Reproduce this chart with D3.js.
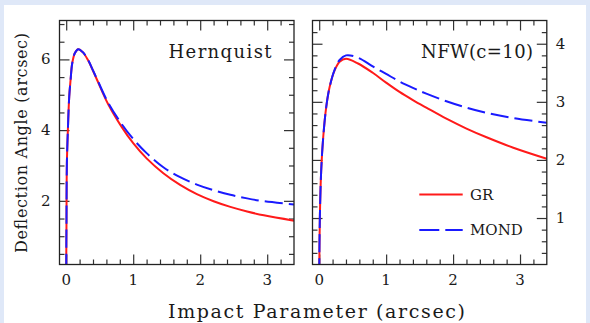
<!DOCTYPE html>
<html>
<head>
<meta charset="utf-8">
<script src="https://cdn.jsdelivr.net/npm/d3@7"></script>
<style>
  html, body { margin: 0; padding: 0; background: #dfe8f8; }
  #chart { width: 590px; height: 323px; }
  text { font-family: "DejaVu Serif", "Liberation Serif", serif; fill: #1a1a1a; }
</style>
</head>
<body>
<div id="chart"></div>
<script>
// Hernquist panel
const hernX    = [0, 0.004, 0.01, 0.025, 0.045, 0.065, 0.09, 0.13, 0.18, 0.25, 0.325, 0.4, 0.475, 0.625, 0.825, 1.0, 1.2, 1.45, 1.7, 1.95, 2.2, 2.45, 2.7, 2.95, 3.4];
const hernGR   = [0, 1.3, 3.05, 4.0, 4.94, 5.41, 5.89, 6.18, 6.29, 6.20, 5.98, 5.68, 5.36, 4.74, 4.10, 3.63, 3.20, 2.78, 2.45, 2.19, 1.99, 1.83, 1.70, 1.59, 1.44];
const hernMOND = [0, 1.3, 3.05, 4.0, 4.94, 5.41, 5.89, 6.18, 6.29, 6.20, 5.99, 5.69, 5.38, 4.78, 4.18, 3.75, 3.35, 2.95, 2.67, 2.46, 2.30, 2.17, 2.07, 1.99, 1.90];

// NFW(c=10) panel
const nfwX    = [0, 0.01, 0.03, 0.06, 0.105, 0.155, 0.23, 0.305, 0.4, 0.58, 0.8, 1.0, 1.2, 1.4, 1.6, 1.9, 2.2, 2.5, 2.9, 3.4];
const nfwGR   = [0, 1.02, 1.82, 2.39, 2.91, 3.25, 3.54, 3.69, 3.74, 3.66, 3.50, 3.33, 3.17, 3.03, 2.90, 2.71, 2.54, 2.39, 2.21, 2.02];
const nfwMOND = [0, 1.02, 1.82, 2.39, 2.91, 3.25, 3.55, 3.72, 3.80, 3.76, 3.61, 3.48, 3.35, 3.24, 3.14, 3.01, 2.90, 2.81, 2.72, 2.64];

// Ticks
const xMajor = [0, 1, 2, 3];
const hernYMajor = [2, 4, 6];
const nfwYMajor = [1, 2, 3, 4];

const legendLabels = ['GR', 'MOND'];
const panelTitles = ['Hernquist', 'NFW(c=10)'];

const RED = '#ff1a1a';
const BLUE = '#1a1aff';
const DASH = '18,6';

const W = 590, H = 323;
const plotTop = 20.5, plotBottom = 264.5;

const svg = d3.select('#chart').append('svg')
  .attr('width', W).attr('height', H)
  .style('display', 'block');

// light blue surround with white plot area
svg.append('rect').attr('width', W).attr('height', H).attr('fill', '#dfe8f8');
svg.append('rect').attr('x', 4).attr('y', 5).attr('width', 582).attr('height', 318).attr('fill', '#fff');

function range(a, b, step) {
  const out = [];
  for (let v = a; v <= b + 1e-9; v += step) out.push(+v.toFixed(4));
  return out;
}

function drawPanel(cfg) {
  const x = d3.scaleLinear().domain([-0.1, 3.4]).range([cfg.left, cfg.right]);
  const y = d3.scaleLinear().domain(cfg.yDomain).range([plotBottom, plotTop]);

  const g = svg.append('g');
  const clipId = 'clip-' + cfg.id;
  svg.append('clipPath').attr('id', clipId)
    .append('rect')
    .attr('x', cfg.left).attr('y', plotTop)
    .attr('width', cfg.right - cfg.left).attr('height', plotBottom - plotTop);

  // axes via d3 axis generators, ticks pointing inward
  const xMinor = range(0.2, 3.2, 0.2).filter(v => !xMajor.includes(Math.round(v * 10) / 10));
  const yMinor = range(cfg.minorStep, cfg.yDomain[1] - 0.01, cfg.minorStep)
    .filter(v => v > cfg.yDomain[0] + 0.01 && !cfg.yMajor.includes(v));

  const addAxis = (gen, scale, vals, size, transform) => {
    g.append('g')
      .attr('transform', transform)
      .call(gen(scale).tickValues(vals).tickSize(size).tickFormat(''))
      .call(s => s.select('.domain').remove())
      .call(s => s.selectAll('line').attr('stroke', '#333').attr('stroke-width', 1.2));
  };
  // bottom / top
  addAxis(d3.axisTop, x, xMajor, 10, `translate(0,${plotBottom})`);
  addAxis(d3.axisTop, x, xMinor, 5, `translate(0,${plotBottom})`);
  addAxis(d3.axisBottom, x, xMajor, 10, `translate(0,${plotTop})`);
  addAxis(d3.axisBottom, x, xMinor, 5, `translate(0,${plotTop})`);
  // left / right
  addAxis(d3.axisRight, y, cfg.yMajor, 10, `translate(${cfg.left},0)`);
  addAxis(d3.axisRight, y, yMinor, 5, `translate(${cfg.left},0)`);
  addAxis(d3.axisLeft, y, cfg.yMajor, 10, `translate(${cfg.right},0)`);
  addAxis(d3.axisLeft, y, yMinor, 5, `translate(${cfg.right},0)`);

  // tick labels
  g.selectAll('.xlab').data(xMajor).enter().append('text')
    .attr('x', d => x(d)).attr('y', 285)
    .attr('text-anchor', 'middle')
    .attr('font-size', 15)
    .text(d => d);

  g.selectAll('.ylab').data(cfg.yMajor).enter().append('text')
    .attr('x', cfg.labelSide === 'left' ? cfg.left - 9 : cfg.right + 9)
    .attr('y', d => y(d) + 5)
    .attr('text-anchor', cfg.labelSide === 'left' ? 'end' : 'start')
    .attr('font-size', 15)
    .text(d => d);

  // curves
  const line = d3.line()
    .x(d => x(d[0]))
    .y(d => y(d[1]))
    .curve(d3.curveCatmullRom.alpha(0.5));

  const curves = g.append('g').attr('clip-path', `url(#${clipId})`);
  curves.append('path')
    .datum(cfg.xs.map((v, i) => [v, cfg.gr[i]]))
    .attr('d', line)
    .attr('fill', 'none').attr('stroke', RED).attr('stroke-width', 2);
  curves.append('path')
    .datum(cfg.xs.map((v, i) => [v, cfg.mond[i]]))
    .attr('d', line)
    .attr('fill', 'none').attr('stroke', BLUE).attr('stroke-width', 2)
    .attr('stroke-dasharray', DASH);

  // frame
  g.append('rect')
    .attr('x', cfg.left).attr('y', plotTop)
    .attr('width', cfg.right - cfg.left).attr('height', plotBottom - plotTop)
    .attr('fill', 'none').attr('stroke', '#222').attr('stroke-width', 1.3);

  // panel title
  g.append('text')
    .attr('x', cfg.titleX).attr('y', 57.5)
    .attr('font-size', 18)
    .attr('textLength', cfg.titleLen).attr('lengthAdjust', 'spacing')
    .text(cfg.title);

  return { x, y, g };
}

drawPanel({
  id: 'hern', left: 59.5, right: 294, yDomain: [0.2, 7.1], yMajor: hernYMajor, minorStep: 0.5,
  labelSide: 'left', xs: hernX, gr: hernGR, mond: hernMOND,
  title: panelTitles[0], titleX: 168.5, titleLen: 103
});

drawPanel({
  id: 'nfw', left: 312.5, right: 546.8, yDomain: [0.2, 4.4], yMajor: nfwYMajor, minorStep: 0.2,
  labelSide: 'right', xs: nfwX, gr: nfwGR, mond: nfwMOND,
  title: panelTitles[1], titleX: 421, titleLen: 112
});

// legend (inside NFW panel)
const legend = svg.append('g');
const legendRows = [
  { label: legendLabels[0], color: RED, dash: null, y: 194.5 },
  { label: legendLabels[1], color: BLUE, dash: '20,6', y: 230 }
];
legendRows.forEach(r => {
  legend.append('line')
    .attr('x1', 419.3).attr('x2', 462.7).attr('y1', r.y).attr('y2', r.y)
    .attr('stroke', r.color).attr('stroke-width', 2)
    .attr('stroke-dasharray', r.dash);
  legend.append('text')
    .attr('x', 470).attr('y', r.y + 5)
    .attr('font-size', 15)
    .text(r.label);
});

// axis titles
svg.append('text')
  .attr('x', 168).attr('y', 318)
  .attr('font-size', 19)
  .attr('textLength', 297).attr('lengthAdjust', 'spacing')
  .text('Impact Parameter (arcsec)');

svg.append('text')
  .attr('transform', 'translate(26.5,253) rotate(-90)')
  .attr('font-size', 16)
  .attr('textLength', 220).attr('lengthAdjust', 'spacing')
  .text('Deflection Angle (arcsec)');
</script>
</body>
</html>
